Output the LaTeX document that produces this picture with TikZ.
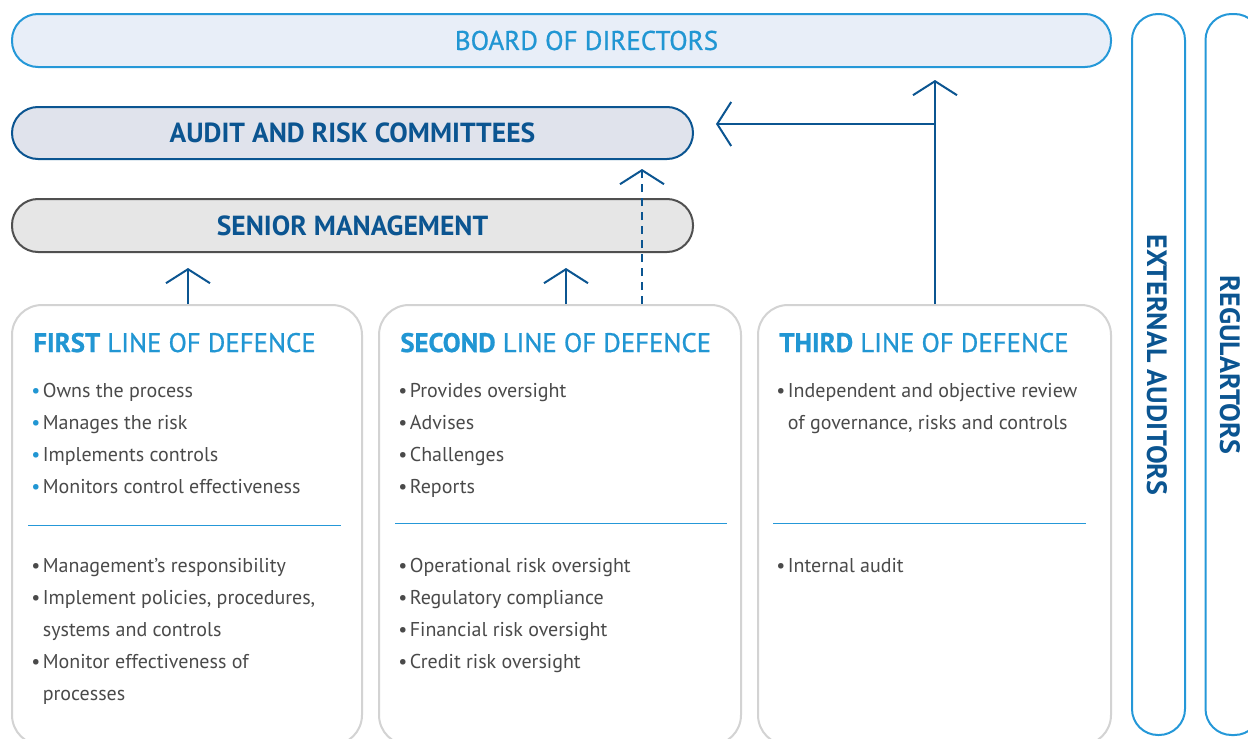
\documentclass[tikz,border=0pt]{standalone}
\usepackage{fontspec}
\setmainfont{PT Sans}
\usetikzlibrary{arrows.meta,positioning}

\definecolor{navy}{HTML}{0B5591}
\definecolor{skyline}{HTML}{2598D8}
\definecolor{skytext}{HTML}{2196D3}
\definecolor{boardfill}{HTML}{E8EEF8}
\definecolor{auditfill}{HTML}{E0E3EC}
\definecolor{seniorfill}{HTML}{E6E6E6}
\definecolor{seniorline}{HTML}{505050}
\definecolor{boxline}{HTML}{D3D3D3}
\definecolor{bodytext}{HTML}{4A4A4A}

\newcommand{\bul}{\textbullet\hspace{1.2pt}}
\newcommand{\ind}{\phantom{\textbullet\hspace{1.2pt}}}
\newcommand{\medw}{\addfontfeature{FakeBold=0.8}}

\tikzset{
  pill/.style={rounded corners=13pt, line width=1pt, inner sep=0pt},
  boardbox/.style={pill, draw=skyline, fill=boardfill, text=skytext,
    font=\fontsize{13.5}{15}\selectfont\medw},
  auditbox/.style={pill, draw=navy, fill=auditfill, text=navy,
    font=\fontsize{13.8}{15}\selectfont\bfseries},
  seniorbox/.style={pill, draw=seniorline, fill=seniorfill, text=navy,
    font=\fontsize{13.8}{15}\selectfont\bfseries},
  linebox/.style={draw=boxline, line width=1pt, rounded corners=15pt, fill=white},
  pillar/.style={draw=skyline, line width=1pt, rounded corners=13pt},
  pillartext/.style={rotate=-90, text=navy, font=\fontsize{14}{15}\selectfont\bfseries},
  header/.style={anchor=base west, inner sep=0pt, text=skytext,
    font=\fontsize{13.4}{15}\selectfont\medw},
  item/.style={anchor=base west, inner sep=0pt, text=bodytext,
    font=\fontsize{10}{12}\selectfont},
  divider/.style={draw=skyline, line width=0.5pt},
  flow/.style={draw=navy, line width=1pt,
    -{Straight Barb[length=7pt,width=22pt,line width=1pt]}},
  dashflow/.style={flow, dash pattern=on 4pt off 3pt}
}

\begin{document}
\begin{tikzpicture}[x=0.5pt,y=-0.5pt]
  \useasboundingbox (0,0) rectangle (1248,739);
  \clip (0,0) rectangle (1248,739);

  % top bars
  \node[boardbox, minimum width=549.5pt, minimum height=26.5pt] (board)
    at (561.5,40.5) {\hspace*{25pt}BOARD OF DIRECTORS};
  \node[auditbox, minimum width=340.5pt, minimum height=26pt] (audit)
    at (352.5,133) {AUDIT AND RISK COMMITTEES};
  \node[seniorbox, minimum width=340.5pt, minimum height=26.5pt] (senior)
    at (352.5,225.5) {SENIOR MANAGEMENT};

  % lines of defence
  \node[linebox, minimum width=175pt, minimum height=220pt] (first) at (187,525) {};
  \node[linebox, minimum width=181pt, minimum height=220pt] (second) at (560,525) {};
  \node[linebox, minimum width=176.5pt, minimum height=220pt] (third) at (934.5,525) {};

  % outside parties
  \node[pillar, minimum width=26.5pt, minimum height=360.5pt] (external) at (1158.5,374.5) {};
  \node[pillar, minimum width=27.5pt, minimum height=360.5pt] (regulators) at (1233,374.5) {};
  \node[pillartext] (exttext) at (1157,365) {EXTERNAL AUDITORS};
  \node[pillartext] (regtext) at (1230,365) {REGULARTORS};

  % headers
  \node[header] (h1) at (33,352) {\textbf{FIRST} LINE OF DEFENCE};
  \node[header] (h2) at (400,352) {\textbf{SECOND} LINE OF DEFENCE};
  \node[header] (h3) at (779,352) {\textbf{THIRD} LINE OF DEFENCE};

  % first line
  \foreach \txt [count=\i from 0] in {Owns the process, Manages the risk,
      Implements controls, Monitors control effectiveness}
    \node[item] (fa\i) at (31,397+32*\i) {\textcolor{skytext}{\textbullet}\hspace{1.2pt}\txt};
  \foreach \txt [count=\i from 0] in {\bul Management’s responsibility,
      {\bul Implement policies, procedures,}, \ind systems and controls,
      \bul Monitor effectiveness of, \ind processes}
    \node[item] (fb\i) at (31,572+32*\i) {\txt};

  % second line
  \foreach \txt [count=\i from 0] in {Provides oversight, Advises, Challenges, Reports}
    \node[item] (sa\i) at (398,397+32*\i) {\bul\txt};
  \foreach \txt [count=\i from 0] in {Operational risk oversight, Regulatory compliance,
      Financial risk oversight, Credit risk oversight}
    \node[item] (sb\i) at (398,572+32*\i) {\bul\txt};

  % third line
  \node[item] (ta0) at (776,397) {\bul Independent and objective review};
  \node[item] (ta1) at (776,429) {\ind of governance, risks and controls};
  \node[item] (tb0) at (776,572) {\bul Internal audit};

  % dividers
  \draw[divider] (28,525) -- (341,525);
  \draw[divider] (395,523) -- (727,523);
  \draw[divider] (773,523) -- (1086,523);

  % reporting lines
  \coordinate (t1) at (188,268);
  \coordinate (t2) at (566,268);
  \coordinate (t3) at (642,169);
  \coordinate (t4) at (935,80);
  \coordinate (j4) at (935,124);
  \coordinate (t5) at (716,124);
  \draw[flow] (first.north -| t1) -- (t1);
  \draw[flow] (second.north -| t2) -- (t2);
  \draw[dashflow] (second.north -| t3) -- (t3);
  \draw[flow] (third.north -| t4) -- (t4);
  \draw[flow] (j4) -- (t5);

\end{tikzpicture}
\end{document}
